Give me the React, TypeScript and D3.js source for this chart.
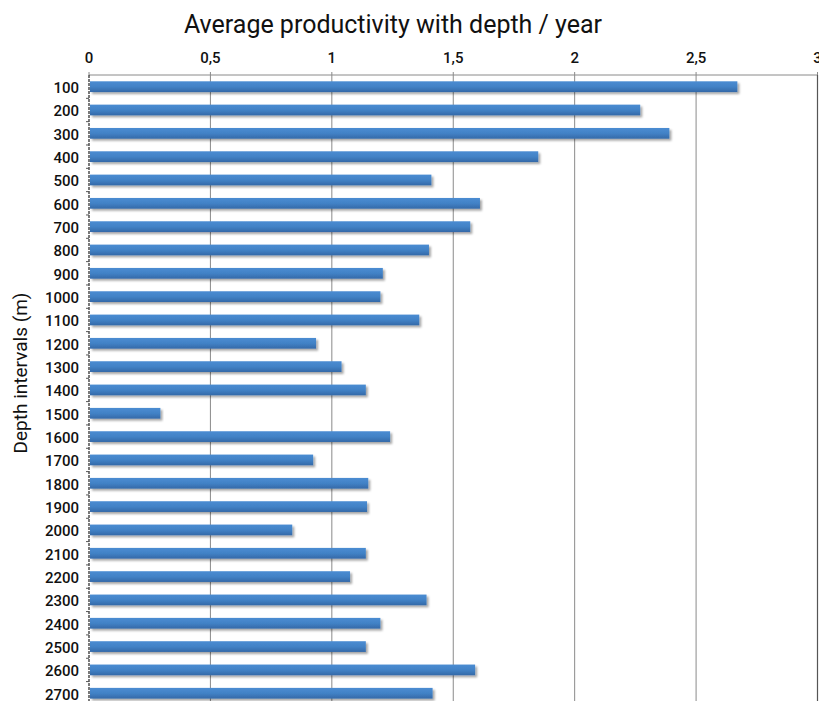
import * as d3 from 'd3';

const depthLabels = [
    '100', '200', '300', '400', '500', '600', '700', '800', '900', '1000',
    '1100', '1200', '1300', '1400', '1500', '1600', '1700', '1800', '1900', '2000',
    '2100', '2200', '2300', '2400', '2500', '2600', '2700',
];

const productivity = [
    2.67, 2.27, 2.39, 1.85, 1.41, 1.61, 1.57, 1.40, 1.21, 1.20,
    1.36, 0.935, 1.04, 1.14, 0.294, 1.24, 0.923, 1.15, 1.145, 0.837,
    1.14, 1.075, 1.39, 1.20, 1.14, 1.59, 1.415,
];

const xTicks = [0, 0.5, 1, 1.5, 2, 2.5, 3];

const WIDTH = 819;
const HEIGHT = 701;
const LEFT = 89;
const RIGHT = 817.5;
const TOP = 75;
const STEP = 23.33;
const FONT = 'Roboto, "DejaVu Sans", sans-serif';

export default function App() {
    const x = d3.scaleLinear().domain([0, 3]).range([LEFT, RIGHT]);
    const y = d3
        .scaleBand<string>()
        .domain(depthLabels)
        .range([TOP, TOP + STEP * depthLabels.length])
        .paddingInner(0.54)
        .paddingOuter(0.27);
    const bottom = TOP + STEP * depthLabels.length;
    const fmt = (v: number) => String(v).replace('.', ',');

    return (
        <svg
            width={WIDTH}
            height={HEIGHT}
            style={{ position: 'absolute', left: 0, top: 0, display: 'block', background: '#fff' }}
        >
            <defs>
                <linearGradient id="barFill" x1="0" y1="0" x2="0" y2="1">
                    <stop offset="0" stopColor="#4a8cd2" />
                    <stop offset="0.5" stopColor="#4282c6" />
                    <stop offset="1" stopColor="#3469a8" />
                </linearGradient>
                <filter id="barShadow" x="-5%" y="-40%" width="110%" height="200%">
                    <feDropShadow dx="2" dy="2" stdDeviation="1.2" floodColor="#000" floodOpacity="0.35" />
                </filter>
            </defs>

            <text x={393} y={33} textAnchor="middle" fontFamily={FONT} fontSize={25} fontWeight={400} fill="#111">
                Average productivity with depth / year
            </text>

            {xTicks.map((t) => (
                <g key={t}>
                    {t > 0 && t < 3 && (
                        <line x1={x(t)} x2={x(t)} y1={TOP} y2={bottom} stroke="#8a8a8a" strokeWidth={1} />
                    )}
                    <line x1={x(t)} x2={x(t)} y1={TOP - 3} y2={TOP} stroke="#8a8a8a" strokeWidth={1} />
                    <text
                        x={x(t)}
                        y={63}
                        textAnchor="middle"
                        fontFamily={FONT}
                        fontSize={15}
                        fontWeight={500}
                        fill="#111"
                    >
                        {fmt(t)}
                    </text>
                </g>
            ))}

            <line x1={LEFT} x2={RIGHT} y1={TOP} y2={TOP} stroke="#8a8a8a" strokeWidth={1} />
            <line x1={RIGHT} x2={RIGHT} y1={TOP} y2={bottom} stroke="#555" strokeWidth={1.2} />

            {depthLabels.map((d, i) => (
                <rect
                    key={d}
                    x={x(0) + 1}
                    y={y(d)}
                    width={x(productivity[i]) - x(0) - 1}
                    height={y.bandwidth()}
                    fill="url(#barFill)"
                    filter="url(#barShadow)"
                />
            ))}

            <line x1={LEFT} x2={LEFT} y1={TOP} y2={bottom} stroke="#222" strokeWidth={1.2} strokeDasharray="3 1" />
            {depthLabels.map((d, i) => (
                <line
                    key={`tick-${d}`}
                    x1={LEFT - 3}
                    x2={LEFT}
                    y1={TOP + STEP * (i + 1)}
                    y2={TOP + STEP * (i + 1)}
                    stroke="#555"
                    strokeWidth={1}
                />
            ))}

            {depthLabels.map((d) => (
                <text
                    key={`label-${d}`}
                    x={79}
                    y={(y(d) ?? 0) + y.bandwidth() / 2 + 1}
                    dy="0.36em"
                    textAnchor="end"
                    fontFamily={FONT}
                    fontSize={15}
                    fontWeight={500}
                    fill="#111"
                >
                    {d}
                </text>
            ))}

            <text
                transform={`translate(27, ${373}) rotate(-90)`}
                textAnchor="middle"
                fontFamily={FONT}
                fontSize={19}
                fill="#111"
            >
                Depth intervals (m)
            </text>
        </svg>
    );
}
